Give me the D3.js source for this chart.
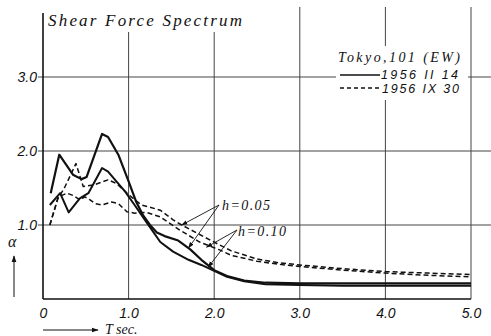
<!DOCTYPE html>
<html><head><meta charset="utf-8">
<script src="https://cdn.jsdelivr.net/npm/d3@7"></script>
<style>
html,body{margin:0;padding:0;background:#fff;}
svg{display:block;}
</style></head>
<body>
<script>
// ---- data ----
const xTicks = [0, 1, 2, 3, 4, 5];
const xTickLabels = ["0", "1.0", "2.0", "3.0", "4.0", "5.0"];
const yTicks = [1, 2, 3];
const yTickLabels = ["1.0", "2.0", "3.0"];

// 1956 II 14 (solid), h = 0.05
const solidH005T = [0.09,0.19,0.35,0.45,0.51,0.69,0.76,0.88,1.0,1.09,1.17,1.25,1.33,1.42,1.58,1.72,1.85,2.0,2.15,2.35,2.6,3.0,3.5,4.0,4.5,5.0];
const solidH005A = [1.43,1.95,1.68,1.62,1.65,2.23,2.19,1.95,1.59,1.31,1.13,1.0,0.90,0.85,0.79,0.67,0.53,0.39,0.31,0.25,0.22,0.21,0.21,0.21,0.21,0.21];
// 1956 II 14 (solid), h = 0.10
const solidH010T = [0.08,0.2,0.30,0.43,0.53,0.69,0.76,0.96,1.07,1.19,1.28,1.37,1.52,1.70,1.85,2.0,2.15,2.35,2.6,3.0,3.5,4.0,4.5,5.0];
const solidH010A = [1.27,1.43,1.17,1.36,1.43,1.77,1.72,1.45,1.27,1.07,0.92,0.77,0.64,0.53,0.46,0.38,0.30,0.24,0.20,0.19,0.18,0.18,0.18,0.18];
// 1956 IX 30 (dashed), h = 0.05
const dashH005T = [0.08,0.17,0.25,0.385,0.47,0.59,0.76,0.86,1.0,1.15,1.25,1.37,1.52,1.62,1.80,2.03,2.2,2.5,2.75,3.0,3.5,4.0,4.5,5.0];
const dashH005A = [1.0,1.35,1.50,1.83,1.52,1.54,1.61,1.56,1.41,1.27,1.24,1.20,1.07,1.0,0.89,0.75,0.65,0.54,0.49,0.46,0.41,0.37,0.35,0.33];
// 1956 IX 30 (dashed), h = 0.10
const dashH010T = [0.08,0.18,0.28,0.35,0.43,0.49,0.55,0.61,0.69,0.80,0.88,0.98,1.07,1.21,1.37,1.60,1.83,2.07,2.2,2.5,2.75,3.0,3.5,4.0,4.5,5.0];
const dashH010A = [1.0,1.38,1.43,1.40,1.34,1.38,1.34,1.29,1.27,1.31,1.29,1.18,1.16,1.17,1.11,0.93,0.77,0.66,0.59,0.51,0.47,0.44,0.39,0.35,0.32,0.30];

const title = "Shear Force Spectrum";
const legendTitle = "Tokyo,101 (EW)";
const legendLabels = ["1956 II 14", "1956 IX 30"];
const annotLabels = ["h=0.05", "h=0.10"];

// ---- drawing ----
const W = 491, H = 336;
const svg = d3.select("body").append("svg").attr("width", W).attr("height", H);
const x = d3.scaleLinear().domain([0, 5]).range([43, 471]);
const y = d3.scaleLinear().domain([0, 4]).range([299, 3]);
const ink = "#111";
const grid = "#444";

// vertical grid lines
svg.append("g").selectAll("line").data(xTicks.slice(1)).join("line")
  .attr("x1", d => x(d)).attr("x2", d => x(d))
  .attr("y1", 7).attr("y2", y(0))
  .attr("stroke", grid).attr("stroke-width", 1);
// horizontal grid lines
svg.append("g").selectAll("line").data(yTicks).join("line")
  .attr("x1", x(0) - 5).attr("x2", W)
  .attr("y1", d => y(d)).attr("y2", d => y(d))
  .attr("stroke", grid).attr("stroke-width", 1);

// axes lines
svg.append("line").attr("x1", x(0)).attr("x2", x(0)).attr("y1", 13).attr("y2", y(0))
  .attr("stroke", ink).attr("stroke-width", 1.6);
svg.append("line").attr("x1", x(0)).attr("x2", x(5)).attr("y1", y(0)).attr("y2", y(0))
  .attr("stroke", ink).attr("stroke-width", 1.6);

// x tick labels via axis
const xAxis = d3.axisBottom(x).tickValues(xTicks).tickFormat((d, i) => xTickLabels[i]).tickSize(0).tickPadding(9);
const gx = svg.append("g").attr("transform", `translate(0,${y(0)})`).call(xAxis);
gx.select(".domain").remove();
gx.selectAll("text").attr("font-family", "Liberation Sans, Arial, sans-serif")
  .attr("font-style", "italic").attr("font-size", 14).attr("fill", ink);

// y tick labels via axis
const yAxis = d3.axisLeft(y).tickValues(yTicks).tickFormat((d, i) => yTickLabels[i]).tickSize(0).tickPadding(6);
const gy = svg.append("g").attr("transform", `translate(${x(0)},0)`).call(yAxis);
gy.select(".domain").remove();
gy.selectAll("text").attr("font-family", "Liberation Sans, Arial, sans-serif")
  .attr("font-style", "italic").attr("font-size", 14).attr("fill", ink);

// title (white box hides grid)
svg.append("rect").attr("x", 46).attr("y", 0).attr("width", 200).attr("height", 32).attr("fill", "#fff");
svg.append("text").attr("x", 48).attr("y", 26).text(title)
  .attr("font-family", "Liberation Serif, Times New Roman, serif").attr("font-style", "italic")
  .attr("font-size", 17).attr("textLength", 194).attr("lengthAdjust", "spacing").attr("fill", ink);

// curves
const line = d3.line().x(d => x(d[0])).y(d => y(d[1])).curve(d3.curveLinear);
const series = [
  {t: solidH005T, a: solidH005A, dash: null, w: 2.2},
  {t: solidH010T, a: solidH010A, dash: null, w: 2.0},
  {t: dashH005T, a: dashH005A, dash: "5,3", w: 1.5},
  {t: dashH010T, a: dashH010A, dash: "5,3", w: 1.5},
];
series.forEach(s => {
  svg.append("path").datum(s.t.map((t, i) => [t, s.a[i]]))
    .attr("d", line).attr("fill", "none").attr("stroke", ink)
    .attr("stroke-width", s.w).attr("stroke-dasharray", s.dash)
    .attr("stroke-linejoin", "round");
});

// legend (white box hides grid)
svg.append("rect").attr("x", 336).attr("y", 46).attr("width", 132).attr("height", 54).attr("fill", "#fff");
svg.append("text").attr("x", 338).attr("y", 62).text(legendTitle)
  .attr("font-family", "Liberation Serif, Times New Roman, serif").attr("font-style", "italic")
  .attr("font-size", 14).attr("textLength", 122).attr("lengthAdjust", "spacing").attr("fill", ink);
svg.append("line").attr("x1", 340).attr("x2", 380).attr("y1", 75).attr("y2", 75).attr("stroke", ink).attr("stroke-width", 1.5);
svg.append("line").attr("x1", 340).attr("x2", 382).attr("y1", 88).attr("y2", 88).attr("stroke", ink).attr("stroke-width", 1.3).attr("stroke-dasharray", "4,3");
legendLabels.forEach((lab, i) => {
  svg.append("text").attr("x", 381 + i).attr("y", 79 + i * 14).text(lab)
    .attr("font-family", "Liberation Sans, Arial, sans-serif").attr("font-style", "italic")
    .attr("font-size", 12.5).attr("textLength", 77).attr("lengthAdjust", "spacing").attr("fill", ink);
});

// annotations with arrows
const defs = svg.append("defs");
defs.append("marker").attr("id", "ah").attr("viewBox", "0 0 10 10").attr("refX", 9).attr("refY", 5)
  .attr("markerWidth", 7).attr("markerHeight", 7).attr("orient", "auto")
  .append("path").attr("d", "M0,1.5 L10,5 L0,8.5 Z").attr("fill", ink);

const annot = [
  {label: annotLabels[0], lx: 222, ly: 210, ox: 219, oy: 205, targets: [[1.62, dashH005A[13]], [1.70, 0.69]]},
  {label: annotLabels[1], lx: 238, ly: 236, ox: 237, oy: 230, targets: [[1.91, 0.70], [1.93, 0.43]]},
];
annot.forEach(a => {
  a.targets.forEach(tg => {
    svg.append("line").attr("x1", a.ox).attr("y1", a.oy).attr("x2", x(tg[0])).attr("y2", y(tg[1]))
      .attr("stroke", ink).attr("stroke-width", 0.9).attr("marker-end", "url(#ah)");
  });
  svg.append("text").attr("x", a.lx).attr("y", a.ly).text(a.label)
    .attr("font-family", "Liberation Serif, Times New Roman, serif").attr("font-style", "italic")
    .attr("font-size", 14).attr("textLength", 48).attr("lengthAdjust", "spacing").attr("fill", ink);
});

// axis titles
svg.append("text").attr("x", 8).attr("y", 247).text("α")
  .attr("font-family", "Liberation Serif, Times New Roman, serif").attr("font-style", "italic")
  .attr("font-size", 16).attr("fill", ink);
svg.append("line").attr("x1", 14).attr("x2", 14).attr("y1", 297).attr("y2", 256)
  .attr("stroke", ink).attr("stroke-width", 1).attr("marker-end", "url(#ah)");
svg.append("line").attr("x1", 43).attr("x2", 98).attr("y1", 330).attr("y2", 330)
  .attr("stroke", ink).attr("stroke-width", 1).attr("marker-end", "url(#ah)");
svg.append("text").attr("x", 105).attr("y", 334).text("T sec.")
  .attr("font-family", "Liberation Serif, Times New Roman, serif").attr("font-style", "italic")
  .attr("font-size", 14).attr("fill", ink);
</script>
</body></html>
